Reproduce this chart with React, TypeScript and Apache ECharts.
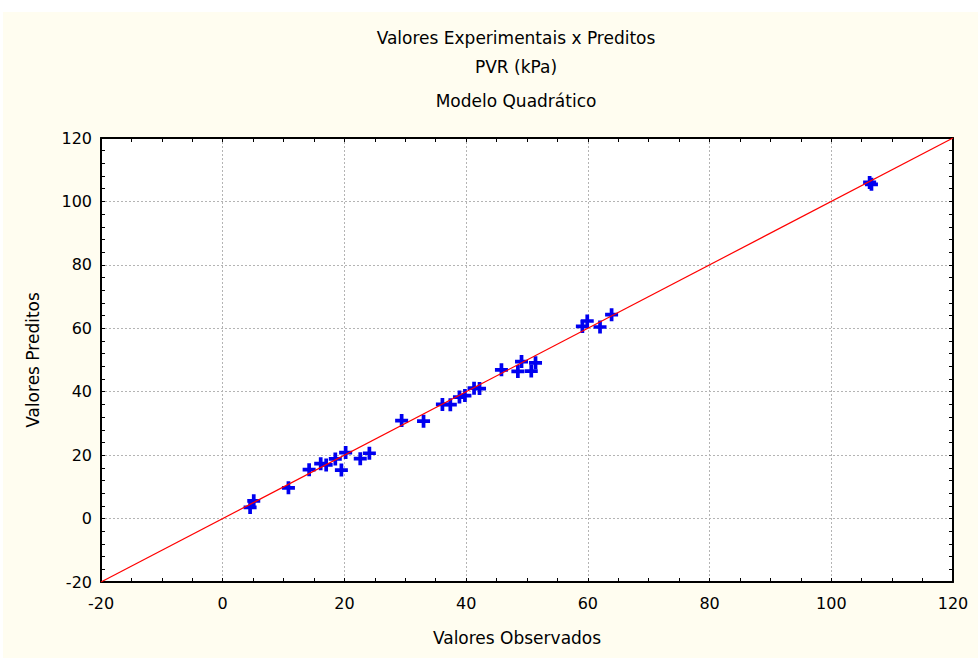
import React, { useEffect, useRef } from "react";
import * as echarts from "echarts";

// Observed vs. predicted PVR (kPa), quadratic model
const observed = [
  4.5, 5.1, 10.8, 14.2, 16.1, 17.0, 18.5, 19.5, 20.2, 22.6, 24.1, 29.4, 33.0, 36.1, 37.4,
  38.9, 39.8, 41.3, 42.2, 45.8, 48.5, 49.1, 50.7, 51.4, 59.1, 59.9, 62.0, 63.9, 106.3, 106.6,
];
const predicted = [
  3.5, 5.6, 9.7, 15.4, 17.3, 16.9, 18.8, 15.3, 20.8, 18.9, 20.6, 30.9, 30.7, 36.0, 35.9,
  38.3, 38.8, 41.1, 41.0, 46.9, 46.4, 49.5, 46.5, 49.1, 60.6, 62.3, 60.4, 64.3, 106.0, 105.4,
];
const axisMin = -20;
const axisMax = 120;
const axisStep = 20;
const identityLine = [
  [-20, -20],
  [120, 120],
];

const titleLines = ["Valores Experimentais x Preditos", "PVR (kPa)", "Modelo Quadrático"];
const xName = "Valores Observados";
const yName = "Valores Preditos";

const FONT = "DejaVu Sans";
const PLUS = "path://M5,0 H9 V5 H14 V9 H9 V14 H5 V9 H0 V5 H5 Z";

export default function App() {
  const ref = useRef<HTMLDivElement>(null);

  useEffect(() => {
    if (!ref.current) return;
    const chart = echarts.init(ref.current, undefined, { renderer: "svg" });

    const frameLine = { show: true, onZero: false, lineStyle: { color: "#000", width: 2 } };
    const tick = { show: true, inside: true, length: 4, lineStyle: { color: "#000", width: 1 } };
    const minor = (n: number) => ({
      show: true,
      splitNumber: n,
      length: 4,
      lineStyle: { color: "#000", width: 1 },
    });
    const grid = {
      show: true,
      lineStyle: { color: "#b4b4b4", width: 1, type: [2, 2] as number[] },
    };
    const label = { color: "#000", fontFamily: FONT, fontSize: 16 };

    const data = observed.map((x, i) => [x, predicted[i]]);

    chart.setOption({
      animation: false,
      backgroundColor: "#fffdf0",
      grid: {
        left: 98,
        top: 126,
        width: 852,
        height: 444,
        show: true,
        backgroundColor: "#ffffff",
        borderWidth: 0,
      },
      xAxis: [
        {
          type: "value",
          position: "bottom",
          min: axisMin,
          max: axisMax,
          interval: axisStep,
          axisLine: frameLine,
          axisTick: tick,
          minorTick: minor(4),
          splitLine: grid,
          axisLabel: { ...label, margin: 13 },
        },
        {
          type: "value",
          position: "top",
          min: axisMin,
          max: axisMax,
          interval: axisStep,
          axisLine: frameLine,
          axisTick: tick,
          minorTick: minor(4),
          splitLine: { show: false },
          axisLabel: { show: false },
        },
      ],
      yAxis: [
        {
          type: "value",
          position: "left",
          min: axisMin,
          max: axisMax,
          interval: axisStep,
          axisLine: frameLine,
          axisTick: tick,
          minorTick: minor(5),
          splitLine: grid,
          axisLabel: { ...label, margin: 9 },
        },
        {
          type: "value",
          position: "right",
          min: axisMin,
          max: axisMax,
          interval: axisStep,
          axisLine: frameLine,
          axisTick: tick,
          minorTick: minor(5),
          splitLine: { show: false },
          axisLabel: { show: false },
        },
      ],
      graphic: [
        ...titleLines.map((t, i) => ({
          type: "text",
          x: 513,
          y: [26, 55, 89][i],
          style: {
            text: t,
            fill: "#000",
            font: `17px "${FONT}"`,
            textAlign: "center",
            textVerticalAlign: "middle",
          },
        })),
        {
          type: "text",
          x: 514,
          y: 626,
          style: {
            text: xName,
            fill: "#000",
            font: `17px "${FONT}"`,
            textAlign: "center",
            textVerticalAlign: "middle",
          },
        },
        {
          type: "text",
          x: 30,
          y: 348,
          rotation: Math.PI / 2,
          style: {
            text: yName,
            fill: "#000",
            font: `17px "${FONT}"`,
            textAlign: "center",
            textVerticalAlign: "middle",
          },
        },
      ],
      series: [
        {
          type: "scatter",
          xAxisIndex: 0,
          yAxisIndex: 0,
          data,
          symbol: PLUS,
          symbolSize: 13,
          itemStyle: { color: "#0000f0", opacity: 1 },
          z: 2,
        },
        {
          type: "line",
          xAxisIndex: 0,
          yAxisIndex: 0,
          data: identityLine,
          symbol: "none",
          lineStyle: { color: "#ff0000", width: 1.2 },
          z: 3,
        },
      ],
    });

    return () => chart.dispose();
  }, []);

  return (
    <div
      style={{
        position: "fixed",
        left: 0,
        top: 0,
        width: 978,
        height: 658,
        background: "#ffffff",
      }}
    >
      <div
        ref={ref}
        style={{ position: "absolute", left: 3, top: 12, width: 975, height: 646 }}
      />
    </div>
  );
}
